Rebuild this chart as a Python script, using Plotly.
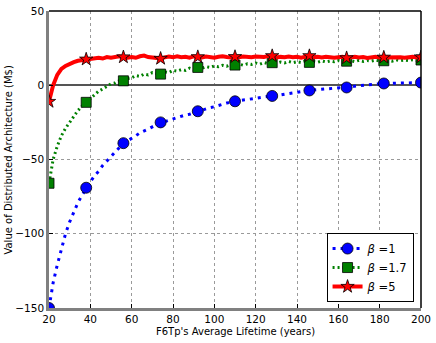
import plotly.graph_objects as go

# lifetime (years), sampled every 2 years
lifetime = list(range(20, 201, 2))

beta1 = [-150, -133, -121, -110, -100, -92, -85, -79, -74, -69,
         -65, -61, -58, -54, -51, -48, -45, -42, -39, -37.5,
         -36, -34, -32, -31, -29.5, -28, -26.5, -25, -24.5, -23.5,
         -22.5, -21.5, -21, -20, -19.5, -18.5, -17.5, -16.5, -16, -15,
         -14.5, -13.5, -13, -12, -11.5, -10.8, -10.5, -10, -9.5, -9,
         -8.8, -8.5, -8, -7.5, -7.2, -7, -6.5, -6, -5.5, -5,
         -4.5, -4.2, -4, -3.5, -3.2, -3, -2.8, -2.5, -2.2, -2,
         -1.8, -1.6, -1.5, -1, -0.6, -0.3, 0, 0.3, 0.5, 0.8,
         1, 1.2, 1.2, 1.3, 1.4, 1.5, 1.5, 1.6, 1.7, 1.8,
         1.8]

beta17 = [-66, -50, -41, -34, -29, -25, -21, -17, -14, -11.5,
          -9, -6.5, -4, -2.5, -0.5, 1, 1.5, 3, 3, 4.5,
          5, 6.5, 6, 7.5, 7, 8.5, 8, 7.5, 9, 8.5,
          10, 9.5, 10.5, 10, 11.5, 10.5, 12, 11.5, 12.5, 12,
          13, 12.5, 13.5, 12.8, 14, 13.6, 14.2, 13.5, 14.5, 14,
          15, 14.2, 15.3, 14.6, 15.2, 14.8, 15.6, 15, 16, 15.2,
          15.8, 15.3, 16.2, 15.4, 16, 15.5, 16.4, 15.7, 16.3, 15.8,
          16.6, 16, 16.2, 16.5, 15.9, 16.8, 16.1, 16.7, 16.3, 17,
          16.4, 16.5, 16.8, 16.2, 17.1, 16.5, 17, 16.6, 17.2, 16.7,
          17]

beta5 = [-11, 0, 7, 11, 13, 14.5, 15.5, 16.5, 17, 17.5,
         17.5, 18, 18.5, 18, 19, 18.5, 19, 19.5, 19, 18.5,
         19, 18.5, 19.5, 20, 19, 18.5, 18.5, 18, 18.8, 19.3,
         18.8, 19.5, 18.9, 19.2, 18.6, 19.4, 19.1, 18.7, 19.3, 19.0,
         18.6, 19.2, 19.5, 19.0, 18.7, 19.2, 18.9, 19.4, 19.1, 18.8,
         19.3, 18.9, 19.0, 19.6, 19.8, 18.7, 19.1, 18.8, 19.3, 18.9,
         19.2, 18.6, 19.0, 19.8, 18.8, 19.1, 18.7, 19.2, 18.9, 18.5,
         18.9, 19.2, 18.4, 18.9, 19.1, 18.7, 19.0, 18.4, 18.8, 19.1,
         18.7, 18.8, 18.8, 19.0, 18.6, 18.9, 18.5, 18.8, 19.1, 18.7,
         19.0]

legend_names = ['<i>β</i> =1', '<i>β</i> =1.7', '<i>β</i> =5']
colors = ['#0000ff', '#008000', '#ff0000']
symbols = ['circle', 'square', 'star']
msizes = [11, 10, 10]
dashes = ['3px,5px', '2px,3px', 'solid']
widths = [3, 3, 4]

# every 9th sample (18 years) carries a marker
mk = list(range(0, len(lifetime), 9))

fig = go.Figure()

for ys, name, c, sym, ms, ds, w in zip([beta1, beta17, beta5], legend_names, colors,
                                        symbols, msizes, dashes, widths):
    fig.add_trace(go.Scatter(x=lifetime, y=ys, mode='lines', showlegend=False,
                             line=dict(color=c, width=w, dash=ds)))
    fig.add_trace(go.Scatter(x=[lifetime[i] for i in mk], y=[ys[i] for i in mk],
                             mode='markers', showlegend=False,
                             marker=dict(color=c, symbol=sym, size=ms,
                                         line=dict(color='black', width=0.8))))
    # legend-only entry
    fig.add_trace(go.Scatter(x=[None], y=[None], mode='lines+markers', name=name,
                             line=dict(color=c, width=w, dash=ds),
                             marker=dict(color=c, symbol=sym, size=ms,
                                         line=dict(color='black', width=0.8))))

font = 'DejaVu Sans'
fig.update_layout(
    width=436, height=343,
    margin=dict(l=49, r=15, t=11, b=35, autoexpand=False),
    plot_bgcolor='white', paper_bgcolor='white',
    font=dict(family=font, size=10, color='black'),
    xaxis=dict(range=[20, 200], tickvals=list(range(20, 201, 20)), automargin=False,
               showgrid=True, gridcolor='#9a9a9a', griddash='dot', gridwidth=1,
               showline=True, linecolor='#808080', linewidth=2.5,
               ticks='inside', ticklen=4, tickcolor='black', zeroline=False,
               tickfont=dict(size=10.5)),
    yaxis=dict(range=[-150, 50], tickvals=[-150, -100, -50, 0, 50], automargin=False,
               showgrid=True, gridcolor='#9a9a9a', griddash='dot', gridwidth=1,
               showline=True, linecolor='#808080', linewidth=2.5,
               ticks='inside', ticklen=4, tickcolor='black',
               zeroline=True, zerolinecolor='#555555', zerolinewidth=2,
               tickfont=dict(size=10.5)),
    legend=dict(x=0.98, y=0.02, xanchor='right', yanchor='bottom',
                bgcolor='white', bordercolor='black', borderwidth=1,
                font=dict(size=11.5), itemwidth=30, tracegroupgap=0),
    shapes=[
        dict(type='line', xref='paper', yref='paper', x0=0, x1=1, y0=1, y1=1,
             line=dict(color='black', width=1.5)),
        dict(type='line', xref='paper', yref='paper', x0=1, x1=1, y0=0, y1=1,
             line=dict(color='black', width=1.5)),
    ],
    annotations=[
        dict(text='Value of Distributed Architecture (M$)', xref='paper', yref='paper',
             x=-0.11, y=0.5, textangle=-90, showarrow=False,
             xanchor='center', yanchor='middle', font=dict(size=10)),
        dict(text="F6Tp's Average Lifetime (years)", xref='paper', yref='paper',
             x=0.5, y=-0.078, showarrow=False,
             xanchor='center', yanchor='middle', font=dict(size=10)),
    ],
)

# drop the browser's default 8px body margin so the figure fills the window
fig.write_html("out.html", config={'displayModeBar': False},
               post_script="document.body.style.margin = '0';")
